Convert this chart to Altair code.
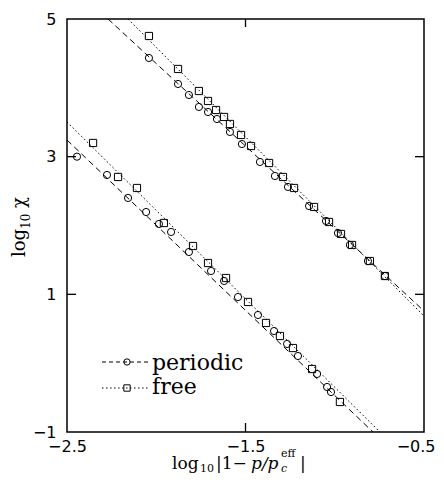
import altair as alt
import pandas as pd

# ---------------- data ----------------
# upper family (periodic = circles, free = squares)
up_per_x = [-2.041, -1.878, -1.817, -1.761, -1.710, -1.660, -1.587, -1.520, -1.419,
            -1.335, -1.262, -1.144, -1.049, -0.982, -0.915, -0.814, -0.719]
up_per_y = [4.434, 4.056, 3.896, 3.722, 3.649, 3.547, 3.359, 3.184, 2.923,
            2.719, 2.560, 2.283, 2.066, 1.891, 1.717, 1.484, 1.266]
up_free_x = [-2.041, -1.878, -1.761, -1.710, -1.665, -1.620, -1.587, -1.525, -1.469,
             -1.368, -1.290, -1.228, -1.116, -1.032, -0.965, -0.903, -0.803, -0.719]
up_free_y = [4.753, 4.274, 3.954, 3.809, 3.678, 3.577, 3.475, 3.315, 3.155,
             2.908, 2.705, 2.545, 2.269, 2.051, 1.877, 1.717, 1.484, 1.266]
# lower family
lo_per_x = [-2.444, -2.276, -2.158, -2.057, -1.985, -1.917, -1.817, -1.693, -1.620,
            -1.542, -1.430, -1.340, -1.267, -1.206, -1.099, -1.043, -1.021]
lo_per_y = [3.000, 2.734, 2.400, 2.196, 2.022, 1.906, 1.615, 1.339, 1.194,
            0.961, 0.700, 0.467, 0.279, 0.104, -0.157, -0.346, -0.419]
lo_free_x = [-2.354, -2.214, -2.108, -1.957, -1.794, -1.710, -1.609, -1.486, -1.385,
             -1.307, -1.234, -1.127, -0.971]
lo_free_y = [3.199, 2.705, 2.545, 2.036, 1.702, 1.455, 1.237, 0.889, 0.584,
             0.395, 0.220, -0.085, -0.564]

# fitted straight lines (end points)
fit_up_per_x, fit_up_per_y = [-2.270, -0.5], [5.0, 0.758]
fit_up_free_x, fit_up_free_y = [-2.158, -0.5], [5.0, 0.685]
fit_lo_per_x, fit_lo_per_y = [-2.5, -0.786], [3.242, -1.0]
fit_lo_free_x, fit_lo_free_y = [-2.5, -0.747], [3.504, -1.0]

x_tick_labels = [-2.5, -1.5, -0.5]
y_tick_labels = [-1, 1, 3, 5]
x_inner_ticks = [-1.5]
y_inner_ticks = [1, 3]
bc_names = ["periodic", "free"]

# ---------------- tables ----------------
def pts(xs, ys, bc):
    return pd.DataFrame({"x": xs, "y": ys, "bc": bc})

points = pd.concat([
    pts(up_per_x, up_per_y, "periodic"), pts(up_free_x, up_free_y, "free"),
    pts(lo_per_x, lo_per_y, "periodic"), pts(lo_free_x, lo_free_y, "free"),
], ignore_index=True)

def seg(xs, ys, bc, sid):
    return pd.DataFrame({"x": xs, "y": ys, "bc": bc, "seg": sid})

lines = pd.concat([
    seg(fit_up_per_x, fit_up_per_y, "periodic", "a"),
    seg(fit_up_free_x, fit_up_free_y, "free", "b"),
    seg(fit_lo_per_x, fit_lo_per_y, "periodic", "c"),
    seg(fit_lo_free_x, fit_lo_free_y, "free", "d"),
], ignore_index=True)

W, H = 357, 413
L0, T0 = 67, 19  # plot origin on the page

X = alt.X("x:Q", scale=alt.Scale(domain=[-2.5, -0.5], nice=False, zero=False),
          axis=alt.Axis(values=x_tick_labels, format=".1f", ticks=False, tickSize=0,
                        domain=False, grid=False, labelPadding=6, labelFlush=False,
                        labelAlign={"condition": {"test": "datum.value > -0.6", "value": "right"},
                                    "value": "center"},
                        labelOffset={"condition": {"test": "datum.value > -0.6", "value": 11},
                                     "value": 0},
                        labelFont="DejaVu Sans", labelFontSize=16, labelColor="black",
                        title=None))
Y = alt.Y("y:Q", scale=alt.Scale(domain=[-1, 5], nice=False, zero=False),
          axis=alt.Axis(values=y_tick_labels, format="d", ticks=False, tickSize=0,
                        domain=False, grid=False, labelPadding=11, labelFlush=False,
                        labelFont="DejaVu Sans", labelFontSize=16, labelColor="black",
                        title=None))

dash = alt.StrokeDash("bc:N", scale=alt.Scale(domain=bc_names, range=[[6, 4], [1.5, 2.5]]), legend=None)
shape = alt.Shape("bc:N", scale=alt.Scale(domain=bc_names, range=["circle", "square"]), legend=None)

fit_layer = alt.Chart(lines).mark_line(color="black", strokeWidth=1).encode(
    x=X, y=Y, strokeDash=dash, detail="seg:N")

pt_layer = alt.Chart(points).mark_point(filled=False, color="black", strokeWidth=1,
                                        opacity=1, size=52).encode(x=X, y=Y, shape=shape)

ty = pd.DataFrame({"y": y_inner_ticks})
tx = pd.DataFrame({"x": x_inner_ticks})
tk = dict(color="black", strokeWidth=1.3)
ticks = [
    alt.Chart(ty).mark_rule(**tk).encode(y=Y, x=alt.value(0), x2=alt.value(9)),
    alt.Chart(ty).mark_rule(**tk).encode(y=Y, x=alt.value(W - 9), x2=alt.value(W)),
    alt.Chart(tx).mark_rule(**tk).encode(x=X, y=alt.value(0), y2=alt.value(8)),
    alt.Chart(tx).mark_rule(**tk).encode(x=X, y=alt.value(H - 9), y2=alt.value(H)),
]

one = pd.DataFrame({"k": [0]})

def txt(s, px, py, size, style="normal", angle=0, font="DejaVu Serif"):
    return alt.Chart(pd.DataFrame({"t": [s]})).mark_text(
        font=font, fontSize=size, fontStyle=style, angle=angle, align="left",
        baseline="alphabetic", color="black").encode(
        x=alt.value(px - L0), y=alt.value(py - T0), text="t:N")

# legend
legend = [
    alt.Chart(one).mark_rule(color="black", strokeWidth=1, strokeDash=[4, 3]).encode(
        x=alt.value(102 - L0), x2=alt.value(148 - L0), y=alt.value(362 - T0)),
    alt.Chart(one).mark_point(shape="circle", filled=False, color="black", size=40,
                              opacity=1, strokeWidth=1).encode(
        x=alt.value(127 - L0), y=alt.value(362 - T0)),
    alt.Chart(one).mark_rule(color="black", strokeWidth=1, strokeDash=[1.5, 2.5]).encode(
        x=alt.value(102 - L0), x2=alt.value(148 - L0), y=alt.value(388 - T0)),
    alt.Chart(one).mark_point(shape="square", filled=False, color="black", size=40,
                              opacity=1, strokeWidth=1).encode(
        x=alt.value(127 - L0), y=alt.value(388 - T0)),
    txt("periodic", 152, 370, 22),
    txt("free", 152, 394, 22),
]

# axis titles (composed)
xtitle = [
    txt("log", 172, 469, 17),
    txt("10", 200, 472, 11),
    txt("|1−", 216, 469, 17),
    txt("p/p", 251, 469, 17, style="italic"),
    txt("eff", 281, 457, 11),
    txt("c", 281, 472, 11, style="italic"),
    txt("|", 300, 469, 17),
]
ytitle = [
    txt("log", 25, 257, 18, angle=270),
    txt("10", 30, 229, 12, angle=270),
    txt("χ", 25, 208, 18, angle=270),
]

chart = alt.layer(fit_layer, pt_layer, *ticks, *legend, *xtitle, *ytitle).properties(
    width=W, height=H,
    autosize=alt.AutoSizeParams(type="none"),
    padding={"left": 59, "top": 11, "right": 12, "bottom": 43},
    background="white",
).configure_view(stroke="black", strokeWidth=1.5)

chart.save("out.html", embed_options={"renderer": "svg", "actions": False})
